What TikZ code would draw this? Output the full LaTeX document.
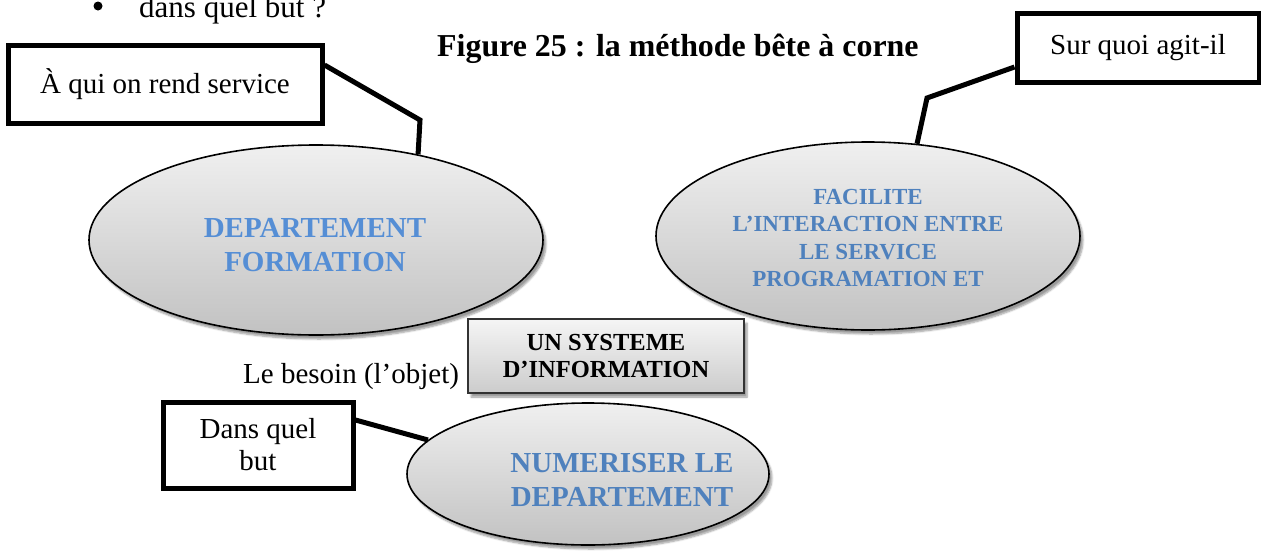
\documentclass[tikz,border=0pt]{standalone}
\usepackage{fontspec}
\setmainfont{Liberation Serif}
\usetikzlibrary{shapes.geometric,shadows.blur}

\definecolor{leftblue}{HTML}{558ED5}
\definecolor{midblue}{HTML}{4F81BD}

\newcommand\figbody{\fontsize{29}{32}\selectfont}

\tikzset{
  bubble/.style={ellipse, draw=black, line width=1.6pt, top color=gray!12,
    bottom color=gray!48, inner sep=0pt,
    blur shadow={shadow xshift=3pt, shadow yshift=-4pt, shadow blur steps=6, shadow opacity=40}},
  callbox/.style={draw=black, line width=5pt, fill=white, inner sep=0pt,
    align=center, font=\figbody},
  callline/.style={draw=black, line width=5pt, line join=miter},
  objbox/.style={draw=black!80, line width=1.3pt, top color=gray!8,
    bottom color=gray!40, inner sep=0pt, align=center,
    blur shadow={shadow xshift=3pt, shadow yshift=-4pt, shadow blur steps=6, shadow opacity=40}},
  bubbletext/.style={align=center, inner sep=0pt, font=\bfseries\fontsize{29}{34}\selectfont}
}

\begin{document}
\begin{tikzpicture}[x=1pt, y=-1pt]
  \useasboundingbox (0,0) rectangle (1261,552);
  \clip (0,0) rectangle (1261,552);

  % bullet line above the figure
  \node[anchor=base west, inner sep=0pt, font=\fontsize{31}{34}\selectfont] (item) at (139,17) {dans quel but ?};
  \node[circle, fill=black, inner sep=0pt, minimum size=9pt] (dot) at (98,6) {};

  % caption
  \node[anchor=base west, inner sep=0pt, font=\bfseries\fontsize{31.9}{35}\selectfont] (title) at (437,56) {Figure 25 : la méthode bête à corne};

  % the three ellipses
  \node[bubble, minimum width=454pt, minimum height=190pt] (le) at (316,240) {};
  \node[bubble, minimum width=424pt, minimum height=188pt] (re) at (868,236) {};
  \node[bubble, minimum width=362pt, minimum height=142pt] (be) at (588,474) {};

  \node[bubbletext, text=leftblue] (letext) at (315,245) {DEPARTEMENT\\FORMATION};
  \node[bubbletext, text=midblue, font=\bfseries\fontsize{23}{27.5}\selectfont] (retext) at (868,238)
    {FACILITE\\L’INTERACTION ENTRE\\LE SERVICE\\PROGRAMATION ET};
  \node[bubbletext, text=midblue] (betext) at (622,480) {NUMERISER LE\\DEPARTEMENT};

  % central object
  \node[objbox, minimum width=276pt, minimum height=74pt, font=\bfseries\fontsize{24.5}{27}\selectfont] (obj) at (606,356)
    {UN SYSTEME\\D’INFORMATION};
  \node[anchor=base west, inner sep=0pt, font=\figbody] (besoin) at (243,383) {Le besoin (l’objet)};

  % question boxes
  \node[callbox, minimum width=314pt, minimum height=78pt] (qa) at (165,84) {À qui on rend service};
  \node[callbox, minimum width=242pt, minimum height=69pt] (qb) at (1138,47.5) {Sur quoi agit-il};
  \node[callbox, minimum width=190pt, minimum height=86pt] (qc) at (258,445) {Dans quel\\but};

  % connectors
  \coordinate (ka) at (420,120);
  \coordinate (kb) at (927,98);
  \draw[callline] (qa.east |- 0,65) -- (ka) -- (le.40.5);
  \draw[callline] (qb.west |- 0,67) -- (kb) -- (re.62.5);
  \draw[callline] (qc.east |- 0,420) -- (be.168.5);
\end{tikzpicture}
\end{document}
